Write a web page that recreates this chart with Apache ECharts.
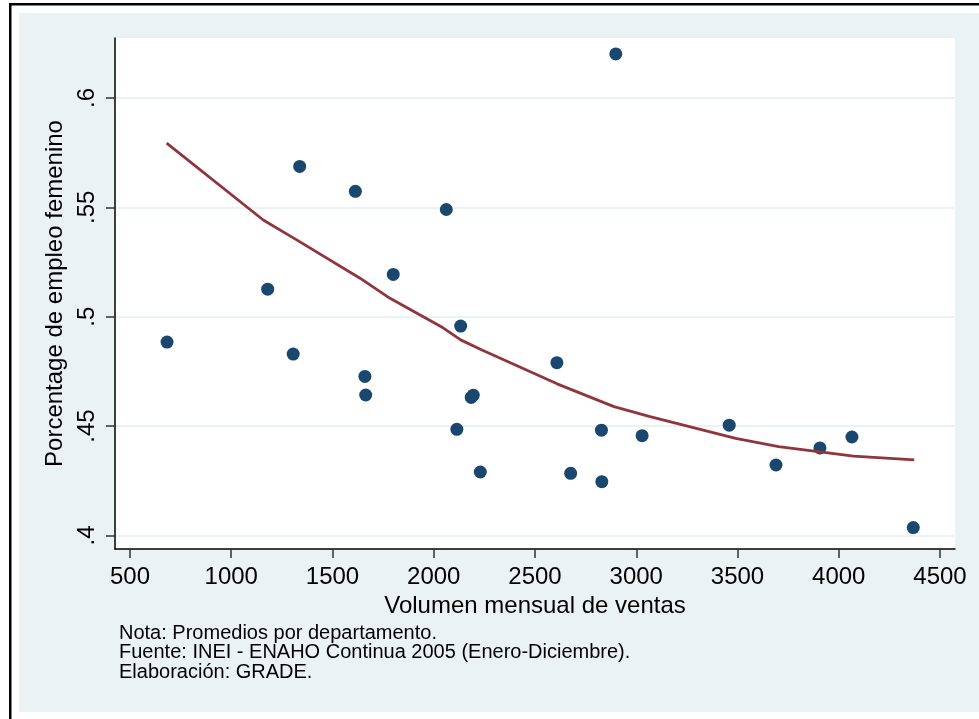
<!DOCTYPE html>
<html>
<head>
<meta charset="utf-8">
<script src="https://cdn.jsdelivr.net/npm/echarts@6/dist/echarts.min.js"></script>
<style>
  html, body { margin: 0; padding: 0; background: #fff; }
  #chart { width: 979px; height: 719px; }
</style>
</head>
<body>
<div id="chart"></div>
<script>
// Scatter data: volumen mensual de ventas vs porcentage de empleo femenino
const ventas = [683, 1180, 1306, 1338, 1613, 1660, 1664, 1800, 2062, 2133, 2114, 2185, 2195, 2230, 2608, 2676, 2828, 2830, 2899, 3029, 3459, 3690, 3907, 4065, 4368];
const empleo = [0.4884, 0.5126, 0.4829, 0.5687, 0.5573, 0.4727, 0.4642, 0.5193, 0.5490, 0.4957, 0.4485, 0.4631, 0.4641, 0.4290, 0.4790, 0.4284, 0.4481, 0.4246, 0.6201, 0.4456, 0.4504, 0.4322, 0.4400, 0.4450, 0.4036];

// Fitted curve
const fitX = [681, 1158, 1323, 1636, 1784, 2046, 2133, 2238, 2609, 2890, 3068, 3491, 3703, 4073, 4373];
const fitY = [0.5793, 0.5442, 0.5351, 0.5176, 0.5084, 0.4949, 0.4894, 0.4848, 0.4693, 0.4589, 0.4543, 0.4444, 0.4406, 0.4363, 0.4345];

const xTicks = [500, 1000, 1500, 2000, 2500, 3000, 3500, 4000, 4500];
const xTickLabels = ['500', '1000', '1500', '2000', '2500', '3000', '3500', '4000', '4500'];
const yTicks = [0.4, 0.45, 0.5, 0.55, 0.6];
const yTickLabels = ['.4', '.45', '.5', '.55', '.6'];

const xTitle = 'Volumen mensual de ventas';
const yTitle = 'Porcentage de empleo femenino';
const notes = ['Nota: Promedios por departamento.', 'Fuente: INEI - ENAHO Continua 2005 (Enero-Diciembre).', 'Elaboración: GRADE.'];

const FONT = 'Liberation Sans, Arial, sans-serif';

function pickLabel(ticks, labels, v) {
  const i = ticks.findIndex(t => Math.abs(t - v) < 1e-6);
  return i >= 0 ? labels[i] : '';
}

const chart = echarts.init(document.getElementById('chart'), null, { renderer: 'canvas' });

const option = {
  backgroundColor: '#ffffff',
  animation: false,
  graphic: [
    { type: 'rect', z: -10, silent: true, shape: { x: 19, y: 13, width: 960, height: 699 }, style: { fill: '#EAF2F3' } },
    { type: 'rect', z: -10, silent: true, shape: { x: 9, y: 3, width: 970, height: 2.5 }, style: { fill: '#000' } },
    { type: 'rect', z: -10, silent: true, shape: { x: 9, y: 3, width: 2.5, height: 716 }, style: { fill: '#000' } },
    {
      type: 'text', left: 119, top: 623, silent: true,
      style: { text: notes.join('\n'), font: '20px ' + FONT, fill: '#000', lineHeight: 19.5 }
    }
  ],
  grid: {
    left: 115, top: 38, width: 840, height: 511,
    show: true, backgroundColor: '#ffffff', borderWidth: 0
  },
  xAxis: {
    type: 'value', min: 426, max: 4574,
    name: xTitle, nameLocation: 'middle', nameGap: 40,
    nameTextStyle: { fontFamily: FONT, fontSize: 24, color: '#000' },
    axisLine: { show: true, onZero: false, lineStyle: { color: '#000', width: 1.5 } },
    axisTick: { show: true, length: 9, customValues: xTicks, lineStyle: { color: '#333', width: 1.5 } },
    axisLabel: {
      customValues: xTicks, margin: 16, fontFamily: FONT, fontSize: 24, color: '#000',
      formatter: v => pickLabel(xTicks, xTickLabels, v)
    },
    splitLine: { show: false }
  },
  yAxis: {
    type: 'value', min: 0.3938, max: 0.6274,
    name: yTitle, nameLocation: 'middle', nameGap: 41, nameRotate: 90,
    nameTextStyle: { fontFamily: FONT, fontSize: 24, color: '#000' },
    axisLine: { show: true, onZero: false, lineStyle: { color: '#000', width: 1.5 } },
    axisTick: { show: true, length: 9, customValues: yTicks, lineStyle: { color: '#333', width: 1.5 } },
    axisLabel: {
      customValues: yTicks, rotate: 90, margin: 16, fontFamily: FONT, fontSize: 24, color: '#000',
      formatter: v => pickLabel(yTicks, yTickLabels, v)
    },
    splitLine: { show: true, lineStyle: { color: '#EAF2F3', width: 2 } }
  },
  series: [
    {
      type: 'scatter',
      data: ventas.map((v, i) => [v, empleo[i]]),
      symbol: 'circle', symbolSize: 13,
      itemStyle: { color: '#1A476F', opacity: 1 },
      z: 3
    },
    {
      type: 'line',
      data: fitX.map((v, i) => [v, fitY[i]]),
      showSymbol: false, symbol: 'none',
      lineStyle: { color: '#90353B', width: 2.8 },
      z: 4
    }
  ]
};

chart.setOption(option);
</script>
</body>
</html>
